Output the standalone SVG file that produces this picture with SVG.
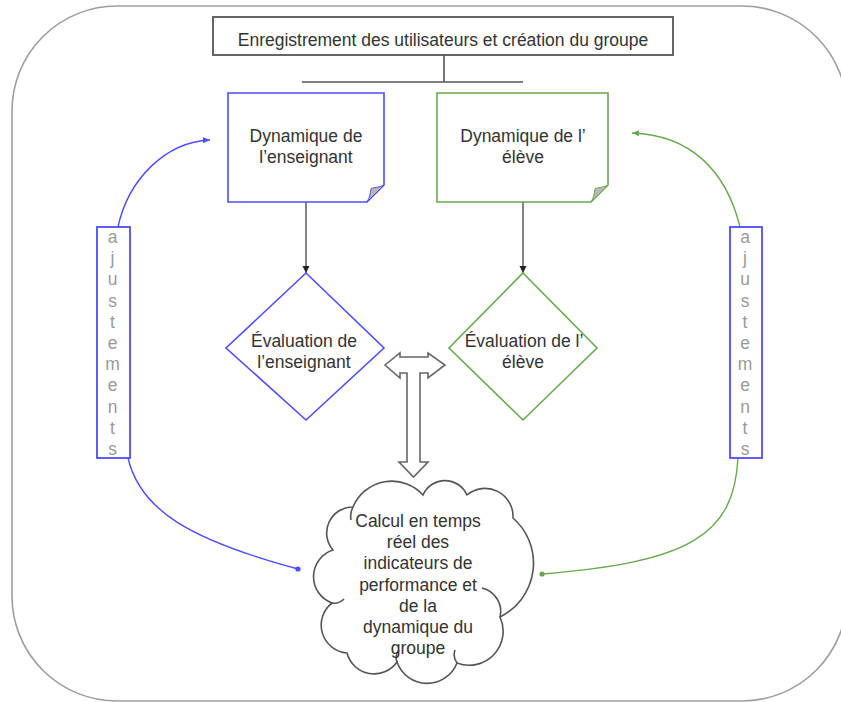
<svg xmlns="http://www.w3.org/2000/svg" width="841" height="702" viewBox="0 0 841 702">
<style>
text{font-family:"Liberation Sans",Arial,sans-serif;font-size:17.5px;fill:#333;text-anchor:middle}
.lbl{fill:#9a9a9a}
.blue{stroke:#4d4dff;fill:#fff;stroke-width:1.6}
.green{stroke:#6aa84f;fill:#fff;stroke-width:1.6}
.dark{stroke:#555;fill:none;stroke-width:1.6}
.fold{fill:#b7b7b7;stroke-width:1}
</style>
<defs>
<marker id="arrB" markerUnits="userSpaceOnUse" markerWidth="8" markerHeight="8" refX="7" refY="4" orient="auto"><path d="M0,0.5 L7,4 L0,7.5 Z" fill="#222"/></marker>
<marker id="arrBlue" markerUnits="userSpaceOnUse" markerWidth="8" markerHeight="8" refX="7" refY="4" orient="auto"><path d="M0,1 L7,4 L0,7 Z" fill="#4d4dff"/></marker>
<marker id="arrGreen" markerUnits="userSpaceOnUse" markerWidth="8" markerHeight="8" refX="7" refY="4" orient="auto"><path d="M0,1 L7,4 L0,7 Z" fill="#6aa84f"/></marker>
<marker id="dotBlue" markerUnits="userSpaceOnUse" markerWidth="6" markerHeight="6" refX="3" refY="3"><circle cx="3" cy="3" r="2.6" fill="#4d4dff"/></marker>
<marker id="dotGreen" markerUnits="userSpaceOnUse" markerWidth="6" markerHeight="6" refX="3" refY="3"><circle cx="3" cy="3" r="2.6" fill="#6aa84f"/></marker>
</defs>
<rect x="0" y="0" width="841" height="702" fill="#fff"/>
<rect id="frame" x="12" y="6" width="835" height="695" rx="105" ry="105" fill="none" stroke="#9e9e9e" stroke-width="1.6"/>

<g id="connectors">
<path class="dark" d="M444,55 V82 M302,82 H523"/>
<line x1="306" y1="202" x2="306" y2="273" stroke="#333" stroke-width="1.2" marker-end="url(#arrB)"/>
<line x1="523" y1="202" x2="523" y2="273" stroke="#333" stroke-width="1.2" marker-end="url(#arrB)"/>
<path d="M118,227 C128,180 165,142 210,140" fill="none" stroke="#4d4dff" stroke-width="1.4" marker-end="url(#arrBlue)"/>
<path d="M128,458 C140,510 190,540 298,569" fill="none" stroke="#4d4dff" stroke-width="1.4" marker-end="url(#dotBlue)"/>
<path d="M740,227 C726,170 690,135 632,133" fill="none" stroke="#6aa84f" stroke-width="1.4" marker-end="url(#arrGreen)"/>
<path d="M738,458 C734,535 690,562 542,574" fill="none" stroke="#6aa84f" stroke-width="1.4" marker-end="url(#dotGreen)"/>
<path id="blockArrow" d="M385,365 L400,353 L400,357 L428,357 L428,353 L445,365 L428,378 L428,373 L420,373 L420,462 L428,462 L413.5,477 L399,462 L407,462 L407,373 L400,373 L400,378 Z" fill="#fff" stroke="#666" stroke-width="1.6" stroke-linejoin="miter"/>
</g>

<g id="title">
<rect x="213" y="17" width="460" height="38" fill="#fff" stroke="#555" stroke-width="1.8"/>
<text x="443" y="46">Enregistrement des utilisateurs et création du groupe</text>
</g>

<g id="note-enseignant">
<path class="blue" d="M228,93 H384 V185 L367,202 H228 Z"/>
<path class="fold" stroke="#4d4dff" d="M367,202 L384,185 C379,188 373,187 371,189 C370,194 370,197 367,202 Z"/>
<text x="306" y="142">Dynamique de</text>
<text x="306" y="163">l’enseignant</text>
</g>

<g id="note-eleve">
<path class="green" d="M437,93 H608 V185 L591,202 H437 Z"/>
<path class="fold" stroke="#6aa84f" d="M591,202 L608,185 C603,188 597,187 595,189 C594,194 594,197 591,202 Z"/>
<text x="523" y="142">Dynamique de l’</text>
<text x="523" y="163">élève</text>
</g>

<g id="eval-enseignant">
<polygon class="blue" points="306,273 384,348 306,420 226,348"/>
<text x="304" y="347">Évaluation de</text>
<text x="304" y="368">l’enseignant</text>
</g>

<g id="eval-eleve">
<polygon class="green" points="523,273 597,348 523,420 449,348"/>
<text x="524" y="347">Évaluation de l’</text>
<text x="523" y="368">élève</text>
</g>

<g id="cloud">
<path d="M333,550 A28,28 0 0 0 332,603 A28,28 0 0 0 347,653 A28,28 0 0 0 397,662 A32,32 0 0 0 457,663 A34,34 0 0 0 500,617 A60,60 0 0 0 513,518 A28,28 0 0 0 467,495 A24,24 0 0 0 423,495 A42,42 0 0 0 353,507 A26,26 0 0 0 333,550 Z" fill="#fff" stroke="#555" stroke-width="1.6"/>
<path d="M482,588 A24,24 0 0 1 500,617 M332,603 A14,14 0 0 0 344,599 M397,662 A12,12 0 0 1 399,650 M457,663 A14,14 0 0 1 455,650 M353,507 A20,20 0 0 0 351,520" fill="none" stroke="#555" stroke-width="1.6"/>
<text x="418" y="527">Calcul en temps</text>
<text x="418" y="548">réel des</text>
<text x="418" y="569">indicateurs de</text>
<text x="418" y="591">performance et</text>
<text x="418" y="612">de la</text>
<text x="418" y="633">dynamique du</text>
<text x="418" y="654">groupe</text>
</g>

<g id="ajust-gauche">
<rect x="97" y="227" width="33" height="231" fill="#fff" stroke="#4d4dff" stroke-width="1.8"/>
<text class="lbl" x="112.5" y="243">a</text>
<text class="lbl" x="112.5" y="264">j</text>
<text class="lbl" x="112.5" y="285">u</text>
<text class="lbl" x="112.5" y="307">s</text>
<text class="lbl" x="112.5" y="328">t</text>
<text class="lbl" x="112.5" y="349">e</text>
<text class="lbl" x="112.5" y="370">m</text>
<text class="lbl" x="112.5" y="391">e</text>
<text class="lbl" x="112.5" y="413">n</text>
<text class="lbl" x="112.5" y="434">t</text>
<text class="lbl" x="112.5" y="455">s</text>
</g>

<g id="ajust-droite">
<rect x="730" y="227" width="32" height="231" fill="#fff" stroke="#4d4dff" stroke-width="1.8"/>
<text class="lbl" x="745" y="243">a</text>
<text class="lbl" x="745" y="264">j</text>
<text class="lbl" x="745" y="285">u</text>
<text class="lbl" x="745" y="307">s</text>
<text class="lbl" x="745" y="328">t</text>
<text class="lbl" x="745" y="349">e</text>
<text class="lbl" x="745" y="370">m</text>
<text class="lbl" x="745" y="391">e</text>
<text class="lbl" x="745" y="413">n</text>
<text class="lbl" x="745" y="434">t</text>
<text class="lbl" x="745" y="455">s</text>
</g>
</svg>
